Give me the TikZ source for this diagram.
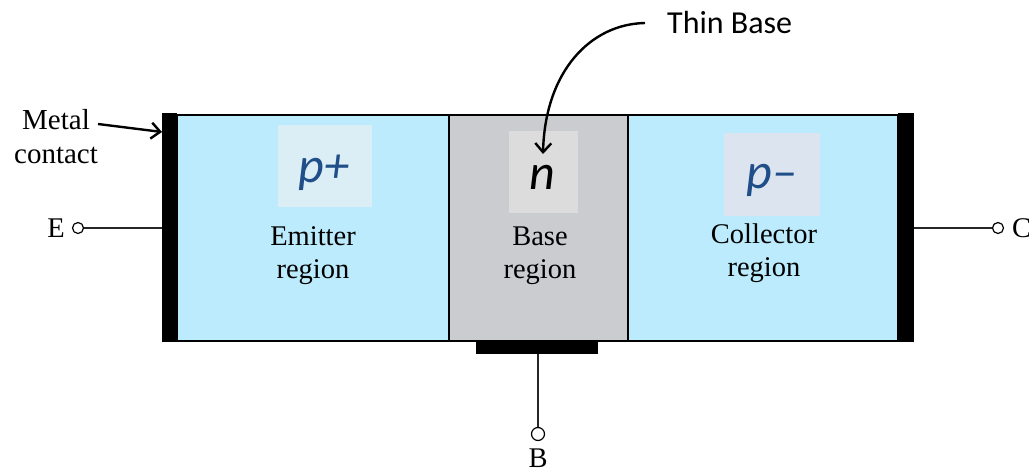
\documentclass[tikz,border=0pt]{standalone}
\usepackage{fontspec}
\setmainfont{Liberation Serif}
\newfontfamily\calfont{Carlito}
\usetikzlibrary{arrows.meta}
\definecolor{pblue}{HTML}{BBEBFC}
\definecolor{ngray}{HTML}{CBCCD0}
\definecolor{pplusbox}{HTML}{DCEEF5}
\definecolor{nbox}{HTML}{DCDCDC}
\definecolor{pminbox}{HTML}{DCE5EF}
\definecolor{dopblue}{HTML}{1F4E89}
\tikzset{
  region/.style={draw=black, line width=2pt, inner sep=0pt, outer sep=0pt},
  contact/.style={fill=black, inner sep=0pt, outer sep=0pt},
  labbox/.style={inner sep=0pt, outer sep=0pt},
  doping/.style={font=\calfont\itshape\fontsize{50}{54}\selectfont, anchor=base, inner sep=0pt},
  rlabel/.style={font=\fontsize{28.5}{33}\selectfont, align=center, anchor=base, inner sep=0pt},
  term/.style={circle, draw=black, fill=white, line width=1.2pt, minimum size=11pt, inner sep=0pt},
  wire/.style={line width=1.3pt, draw=black!85},
  pointer/.style={line width=2.4pt, -{Straight Barb[length=9pt,width=16pt,line width=2.4pt]}},
}
\begin{document}
\begin{tikzpicture}[x=1pt,y=-1pt]
\useasboundingbox (0,0) rectangle (1029,469);
% regions
\node[region, fill=pblue, minimum width=272, minimum height=226] (em) at (313,227.5) {};
\node[region, fill=ngray, minimum width=179, minimum height=226] (ba) at (538.5,227.5) {};
\node[region, fill=pblue, minimum width=270, minimum height=226] (co) at (763,227.5) {};
% label boxes
\node[labbox, fill=pplusbox, minimum width=94, minimum height=82] (pb) at (325,166) {};
\node[labbox, fill=nbox, minimum width=69, minimum height=82] (nb) at (543.5,172) {};
\node[labbox, fill=pminbox, minimum width=96, minimum height=83] (cb) at (772,174.5) {};
\node[doping, text=dopblue] (pp) at (324,182) {p+};
\node[doping, text=black] (nn) at (542,189) {n};
\node[doping, text=dopblue] (pm) at (772,188) {p\textendash};
% region texts
\node[rlabel] (emt) at (313,278) {Emitter\\region};
\node[rlabel] (bat) at (540,278) {Base\\region};
\node[rlabel] (cot) at (764,276) {Collector\\region};
% contacts
\node[contact, minimum width=15, minimum height=229] (lc) at (169.5,227.5) {};
\node[contact, minimum width=16, minimum height=229] (rc) at (906,227.5) {};
\node[contact, minimum width=122, minimum height=14] (bc) at (537,347) {};
% terminals
\node[term] (et) at (78,228) {};
\node[term] (ct) at (998,228) {};
\node[term, minimum size=13pt] (bt) at (538,434) {};
\node[font=\fontsize{28.5}{33}\selectfont, anchor=base east, inner sep=0pt] (el) at (65,237) {E};
\node[font=\fontsize{28.5}{33}\selectfont, anchor=base west, inner sep=0pt] (cl) at (1012,237) {C};
\node[font=\fontsize{28.5}{33}\selectfont, anchor=base, inner sep=0pt] (bl) at (538,467) {B};
\draw[wire] (et.east) -- (et -| lc.west);
\draw[wire] (ct.west) -- (ct -| rc.east);
\draw[wire] (bt.north) -- (bt |- bc.south);
% metal contact label
\node[font=\fontsize{29}{34}\selectfont, align=center, anchor=base, inner sep=0pt] (mc) at (56,163) {Metal\\contact};
\coordinate (mcs) at (98,124);
\draw[pointer] (mcs) -- (lc.north west |- 0,132);
% thin base
\node[font=\calfont\fontsize{32}{36}\selectfont, anchor=base west, inner sep=0pt] (tb) at (667,33) {Thin Base};
\coordinate (tbs) at (645,23);
\draw[pointer] (tbs) .. controls (590,24) and (545,72) .. (543,154);
\end{tikzpicture}
\end{document}
